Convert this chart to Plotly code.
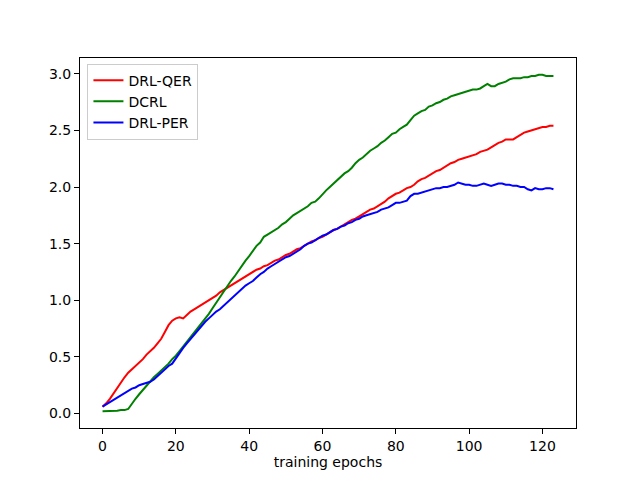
import plotly.graph_objects as go

# --- datos ---
epochs = list(range(124))

drl_qer = [
    0.06, 0.09, 0.13, 0.18, 0.23, 0.28, 0.32, 0.36, 0.39, 0.42,
    0.45, 0.48, 0.52, 0.55, 0.58, 0.62, 0.66, 0.72, 0.78, 0.82,
    0.84, 0.85, 0.84, 0.87, 0.90, 0.92, 0.94, 0.96, 0.98, 1.00,
    1.02, 1.04, 1.07, 1.09, 1.11, 1.13, 1.15, 1.17, 1.19, 1.21,
    1.23, 1.25, 1.27, 1.28, 1.30, 1.31, 1.33, 1.35, 1.36, 1.38,
    1.40, 1.41, 1.43, 1.45, 1.46, 1.48, 1.50, 1.52, 1.53, 1.55,
    1.56, 1.58, 1.60, 1.62, 1.63, 1.65, 1.67, 1.69, 1.71, 1.72,
    1.74, 1.76, 1.78, 1.80, 1.81, 1.83, 1.85, 1.87, 1.90, 1.92,
    1.94, 1.95, 1.97, 1.99, 2.00, 2.02, 2.05, 2.07, 2.08, 2.10,
    2.12, 2.14, 2.15, 2.17, 2.19, 2.21, 2.22, 2.24, 2.25, 2.26,
    2.27, 2.28, 2.29, 2.31, 2.32, 2.33, 2.35, 2.37, 2.39, 2.40,
    2.42, 2.42, 2.42, 2.44, 2.46, 2.48, 2.49, 2.50, 2.51, 2.52,
    2.53, 2.53, 2.54, 2.54,
]

dcrl = [
    0.02, 0.02, 0.02, 0.02, 0.025, 0.03, 0.03, 0.04, 0.09, 0.13,
    0.17, 0.21, 0.25, 0.28, 0.32, 0.35, 0.38, 0.41, 0.44, 0.48,
    0.51, 0.55, 0.59, 0.63, 0.68, 0.72, 0.76, 0.79, 0.83, 0.88,
    0.93, 0.98, 1.03, 1.07, 1.12, 1.17, 1.21, 1.26, 1.30, 1.35,
    1.39, 1.44, 1.48, 1.51, 1.56, 1.58, 1.60, 1.62, 1.64, 1.67,
    1.69, 1.72, 1.75, 1.77, 1.79, 1.81, 1.83, 1.86, 1.87, 1.90,
    1.94, 1.97, 2.00, 2.03, 2.06, 2.09, 2.12, 2.14, 2.17, 2.21,
    2.24, 2.26, 2.29, 2.32, 2.34, 2.36, 2.39, 2.41, 2.44, 2.47,
    2.48, 2.51, 2.53, 2.55, 2.59, 2.63, 2.65, 2.67, 2.68, 2.71,
    2.72, 2.74, 2.75, 2.77, 2.78, 2.80, 2.81, 2.82, 2.83, 2.84,
    2.85, 2.86, 2.86, 2.87, 2.89, 2.91, 2.89, 2.89, 2.91, 2.92,
    2.93, 2.95, 2.96, 2.96, 2.96, 2.97, 2.97, 2.98, 2.98, 2.99,
    2.99, 2.98, 2.98, 2.98,
]

drl_per = [
    0.06, 0.08, 0.10, 0.12, 0.14, 0.16, 0.18, 0.20, 0.22, 0.23,
    0.25, 0.26, 0.27, 0.28, 0.30, 0.33, 0.36, 0.39, 0.42, 0.44,
    0.49, 0.54, 0.58, 0.62, 0.66, 0.70, 0.74, 0.77, 0.81, 0.84,
    0.87, 0.90, 0.92, 0.95, 0.98, 1.01, 1.04, 1.07, 1.10, 1.13,
    1.15, 1.17, 1.20, 1.23, 1.25, 1.28, 1.30, 1.32, 1.34, 1.36,
    1.38, 1.39, 1.41, 1.43, 1.45, 1.48, 1.50, 1.51, 1.53, 1.55,
    1.57, 1.58, 1.60, 1.62, 1.63, 1.65, 1.66, 1.68, 1.69, 1.71,
    1.72, 1.74, 1.75, 1.76, 1.77, 1.78, 1.80, 1.81, 1.82, 1.84,
    1.86, 1.86, 1.87, 1.88, 1.92, 1.94, 1.94, 1.95, 1.96, 1.97,
    1.98, 1.99, 1.99, 2.00, 2.00, 2.01, 2.02, 2.04, 2.03, 2.02,
    2.02, 2.01, 2.01, 2.02, 2.03, 2.02, 2.01, 2.02, 2.03, 2.03,
    2.02, 2.02, 2.01, 2.01, 2.00, 2.00, 1.98, 1.97, 1.99, 1.98,
    1.98, 1.99, 1.99, 1.98,
]

series = [
    ("DRL-QER", drl_qer, "red"),
    ("DCRL", dcrl, "green"),
    ("DRL-PER", drl_per, "blue"),
]

x_ticks = [0, 20, 40, 60, 80, 100, 120]
y_ticks = [0.0, 0.5, 1.0, 1.5, 2.0, 2.5, 3.0]

FONT = dict(family="DejaVu Sans", size=14, color="black")

fig = go.Figure()
for name, values, color in series:
    fig.add_trace(go.Scatter(
        x=epochs, y=values, mode="lines", name=name,
        line=dict(color=color, width=2),
    ))

axis_style = dict(
    showline=True, mirror=True, linecolor="black", linewidth=1,
    ticks="outside", ticklen=5, tickwidth=1, tickcolor="black",
    showgrid=False, zeroline=False, tickfont=FONT,
)

fig.update_xaxes(range=[-6.15, 129.15], tickvals=x_ticks,
                 title=dict(text="training epochs", font=FONT, standoff=4),
                 **axis_style)
fig.update_yaxes(range=[-0.128, 3.139], tickvals=y_ticks, tickformat=".1f",
                 **axis_style)

# la pagina tiene un margen de 8px, se compensa aqui
fig.update_layout(
    width=632, height=472,
    margin=dict(l=72, r=64, t=50, b=52, autoexpand=False),
    paper_bgcolor="white", plot_bgcolor="white",
    font=FONT,
    legend=dict(x=0.015, y=0.985, xanchor="left", yanchor="top",
                bgcolor="rgba(255,255,255,0.8)", bordercolor="#cccccc",
                borderwidth=1, font=FONT, tracegroupgap=0),
)

fig.write_html("out.html")
